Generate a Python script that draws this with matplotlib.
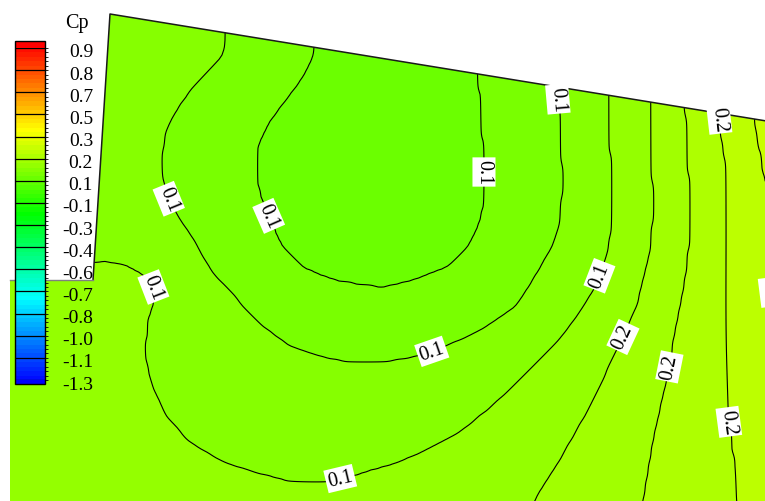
import numpy as np
import matplotlib
matplotlib.use("Agg")
import matplotlib.pyplot as plt
from matplotlib.colors import LinearSegmentedColormap, BoundaryNorm
from matplotlib.cm import ScalarMappable
from matplotlib.path import Path
from matplotlib.patches import PathPatch

plt.rcParams["font.family"] = ["Liberation Serif", "DejaVu Serif"]

# Flood levels of the pressure coefficient; the legend shows every fifth one
CP_LEVELS = np.round(-1.3 + 0.03 * np.arange(76), 2)
LEGEND_LABELS = ["-1.3", "-1.1", "-1.0", "-0.8", "-0.7", "-0.6", "-0.4", "-0.3",
                 "-0.1", "0.1", "0.2", "0.3", "0.5", "0.7", "0.8", "0.9"]

# Surface outline in plane units (x to the right, y downward)
SURFACE_X = [110, 780, 780, 10, 10, 93]
SURFACE_Y = [15, 124.2, 516, 516, 281, 281]

# Measured Cp isolines: level, printed label and traced points
# (each trace runs on past the surface edge to the border of the grid)
ISO_LEVELS = [0.08, 0.11, 0.14, 0.17, 0.20, 0.23, 0.26]
ISO_LABELS = ["0.1", "0.1", "0.1", "0.2", "0.2", "0.2", "0.3"]
ISO_X = [
    [315, 313, 312, 310, 300, 287, 267, 255, 254, 257, 266, 280, 300, 333, 367,
     385, 413, 447, 470, 483, 487, 487, 485, 482, 481, 481],
    [227, 228, 228, 229, 223, 200, 183, 167, 162, 163, 168, 177, 193, 198, 207,
     217, 230, 243, 263, 290, 323, 353, 390, 418, 432, 447, 483, 517, 537, 553,
     562, 563, 560, 558, 558],
    [608, 608, 609, 610, 612, 613, 611, 607, 600, 593, 580, 560, 533, 500, 460,
     427, 418, 400, 390, 357, 340, 323, 290, 257, 223, 190, 167, 153, 147, 150,
     158, 160, 147, 125, 105, 94, 60, 0],
    [649, 650, 650, 652, 653, 650, 643, 637, 630, 623, 613, 600, 587, 560, 533,
     527],
    [684, 684, 685, 688, 690, 688, 680, 673, 670, 665, 653, 643, 640],
    [717, 717, 718, 720, 725, 727, 725, 725, 727, 727, 730, 733, 734],
    [752, 752, 753, 757, 763, 765, 765, 770, 780],
]
ISO_Y = [
    [0, 40, 49, 63, 80, 97, 123, 147, 170, 193, 218, 247, 270, 283, 289,
     290, 283, 270, 250, 220, 193, 173, 147, 110, 75, 0],
    [0, 26, 35, 50, 60, 83, 103, 130, 160, 180, 200, 217, 240, 250, 265,
     280, 291, 307, 327, 347, 358, 364, 362, 357, 353, 347, 330, 307, 275, 247,
     220, 177, 113, 88, 0],
    [0, 88, 97, 147, 177, 213, 235, 257, 277, 293, 313, 340, 367, 400, 433,
     450, 454, 461, 464, 473, 477, 480, 480, 473, 463, 443, 417, 387, 357, 323,
     303, 287, 273, 262, 259, 261, 261, 261],
    [0, 93, 102, 147, 220, 253, 280, 307, 322, 338, 357, 387, 413, 460, 502,
     516],
    [0, 99, 108, 163, 213, 263, 307, 343, 368, 387, 440, 500, 516],
    [0, 103, 112, 133, 163, 213, 280, 347, 407, 423, 447, 500, 516],
    [0, 111, 120, 147, 197, 263, 293, 320, 340],
]

# Spot values: suction pocket, outer corner and the lower-left plate
PEAK_X = [370, 400, 775, 15, 15, 200]
PEAK_Y = [140, 205, 130, 330, 505, 510]
PEAK_CP = [0.06, 0.06, 0.275, 0.15, 0.155, 0.155]

# Isoline label anchors
LABEL_X = [266, 487, 168, 432, 558, 160, 340, 600, 623, 670, 719, 727, 764]
LABEL_Y = [218, 173, 200, 353, 100, 287, 478, 277, 338, 368, 120, 423, 293]

# ---------------------------------------------------------------------------
# Build a smooth Cp field on a grid that honours the measured isolines
H = 3.0
gx = np.arange(0.0, 780.0 + H, H)
gy = np.arange(0.0, 516.0 + H, H)
GX, GY = np.meshgrid(gx, gy)
ny, nx = GX.shape

verts = np.column_stack([SURFACE_X + SURFACE_X[:1], SURFACE_Y + SURFACE_Y[:1]])
outline = Path(verts, closed=True)

fixed = np.zeros((ny, nx), bool)
field = np.full((ny, nx), 0.15)


def burn(xs, ys, value):
    xs = np.asarray(xs, float)
    ys = np.asarray(ys, float)
    if len(xs) > 1:
        s = np.concatenate([[0.0], np.cumsum(np.hypot(np.diff(xs), np.diff(ys)))])
        t = np.arange(0.0, s[-1] + 0.25, 0.25)
        xs = np.interp(t, s, xs)
        ys = np.interp(t, s, ys)
    ix = np.clip(np.rint(xs / H).astype(int), 0, nx - 1)
    iy = np.clip(np.rint(ys / H).astype(int), 0, ny - 1)
    fixed[iy, ix] = True
    field[iy, ix] = value


for lev, xs, ys in zip(ISO_LEVELS, ISO_X, ISO_Y):
    burn(xs, ys, lev)
for x, y, v in zip(PEAK_X, PEAK_Y, PEAK_CP):
    burn([x], [y], v)


def neighbours(p):
    return [p[:-2, 1:-1], p[2:, 1:-1], p[1:-1, :-2], p[1:-1, 2:]]


prg = np.pad(np.ones((ny, nx), bool), 1, constant_values=False)
w = [a.astype(float) for a in neighbours(prg)]
wsum = sum(w)

parity = (np.add.outer(np.arange(ny), np.arange(nx)) % 2) == 0
sweeps = [parity & ~fixed, ~parity & ~fixed]
omega = 1.95
for _ in range(3000):
    for free in sweeps:
        p = np.pad(field, 1, mode="edge")
        nb = neighbours(p)
        avg = (w[0] * nb[0] + w[1] * nb[1] + w[2] * nb[2] + w[3] * nb[3]) / wsum
        field = np.where(free, field + omega * (avg - field), field)

kern = np.array([1, 4, 6, 4, 1]) / 16.0


def smooth(a):
    p = np.pad(a, ((2, 2), (0, 0)), mode="edge")
    a = sum(kern[i] * p[i:i + a.shape[0], :] for i in range(5))
    p = np.pad(a, ((0, 0), (2, 2)), mode="edge")
    return sum(kern[i] * p[:, i:i + a.shape[1]] for i in range(5))


field = smooth(field)

# ---------------------------------------------------------------------------
fig = plt.figure(figsize=(7.65, 5.02), dpi=100)
fig.patch.set_facecolor("white")
ax = fig.add_axes([0, 0, 1, 1])
ax.set_xlim(0, 765)
ax.set_ylim(502, 0)
ax.axis("off")

cmap = LinearSegmentedColormap.from_list(
    "small_rainbow", ["#0000ff", "#00ffff", "#00ff00", "#ffff00", "#ff0000"],
    N=len(CP_LEVELS) + 1)
norm = BoundaryNorm(CP_LEVELS, ncolors=cmap.N, extend="both")

clip = PathPatch(outline, transform=ax.transData, fc="none", ec="none")
ax.add_patch(clip)

cf = ax.contourf(GX, GY, field, levels=CP_LEVELS, cmap=cmap, norm=norm, extend="both")
cf.set_clip_path(clip)

cs = ax.contour(GX, GY, field, levels=ISO_LEVELS, colors="k", linewidths=0.8)
iso_arr = np.array(ISO_LEVELS)


def label_text(v):
    return ISO_LABELS[int(np.argmin(np.abs(iso_arr - v)))]


texts = ax.clabel(cs, fmt=label_text, manual=list(zip(LABEL_X, LABEL_Y)),
                  inline=True, inline_spacing=1, fontsize=14.5, colors="k")
for t in texts:
    t.set_bbox(dict(boxstyle="square,pad=0.1", fc="white", ec="none"))
    t.set_zorder(5)
cs.set_clip_path(clip)

# surface edges
ax.plot([SURFACE_X[5], SURFACE_X[0], SURFACE_X[1]],
        [SURFACE_Y[5], SURFACE_Y[0], SURFACE_Y[1]],
        color="#1a1a1a", lw=1.1, zorder=3, solid_capstyle="butt")
ax.plot([SURFACE_X[4], SURFACE_X[5]], [SURFACE_Y[4], SURFACE_Y[5]],
        color="#808080", lw=1.0, zorder=3)

# legend
cax = fig.add_axes([15 / 765, (502 - 385) / 502, 30 / 765, 343 / 502])
sm = ScalarMappable(norm=norm, cmap=cmap)
cb = fig.colorbar(sm, cax=cax, extend="both", extendrect=True,
                  extendfrac=[0.012, 0.021], spacing="uniform")
cb.set_ticks([])
cb.outline.set_edgecolor("black")
cb.outline.set_linewidth(1.0)
for v, lab in zip(CP_LEVELS[::5], LEGEND_LABELS):
    cax.axhline(v, color="black", lw=0.9)
    cax.annotate(lab, xy=(1, v), xycoords=("axes fraction", "data"),
                 xytext=(48, -4), textcoords="offset pixels",
                 ha="right", va="center", fontsize=14,
                 annotation_clip=False)
fig.text(65 / 765, 1 - 28 / 502, "Cp", fontsize=14.5, va="baseline")

fig.savefig("out.png", dpi=100)
